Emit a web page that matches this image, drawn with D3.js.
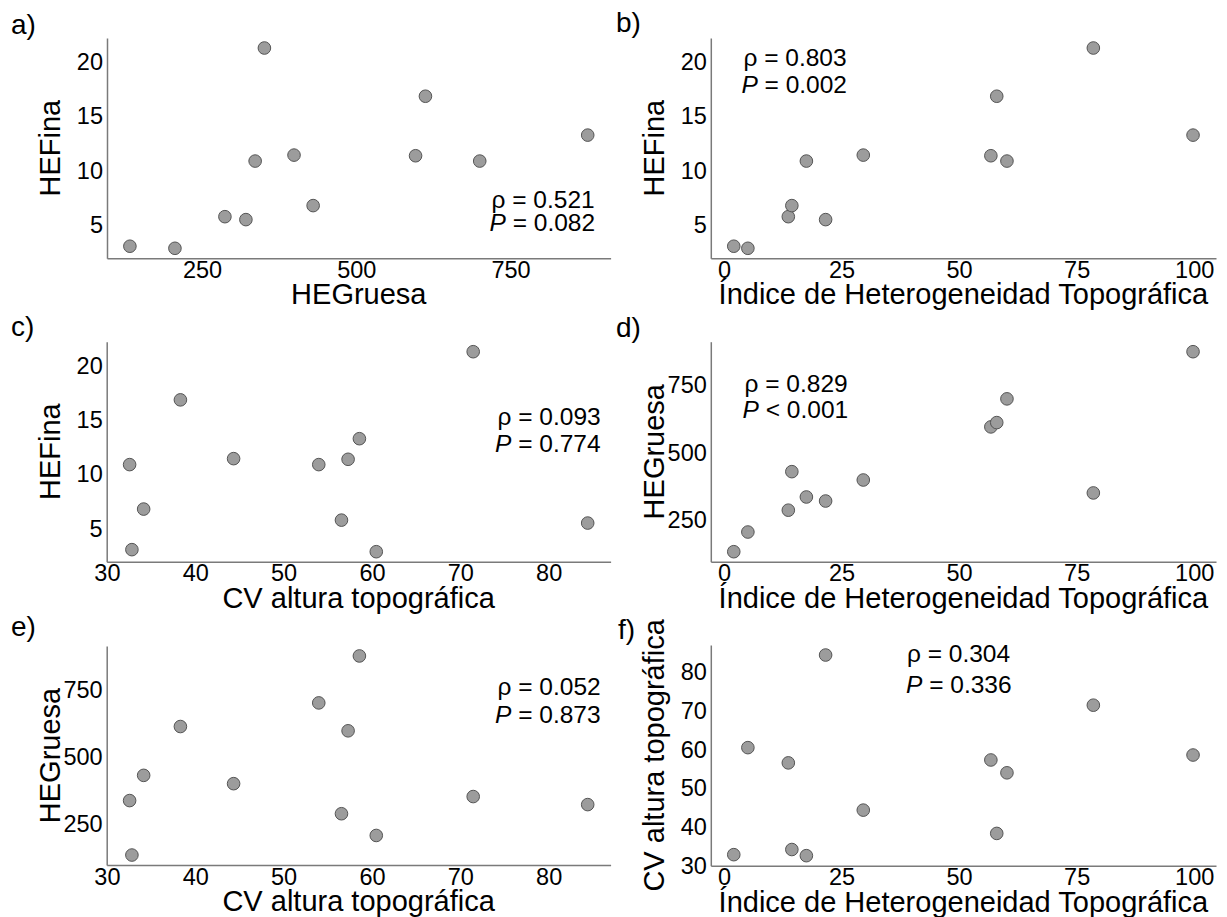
<!DOCTYPE html>
<html>
<head>
<meta charset="utf-8">
<script src="https://cdn.jsdelivr.net/npm/d3@7"></script>
<style>
  body { margin: 0; background: #fff; }
  svg { display: block; font-family: "Liberation Sans", Arial, sans-serif; }
</style>
</head>
<body>
<svg id="chart" width="1227" height="917"></svg>
<script>
// values per site (12 sites)
const heFina   = [3.05, 2.86, 5.77, 5.5, 10.89, 21.3, 11.44, 6.79, 11.38, 16.86, 10.89, 13.28];
const heGruesa = [133, 206, 287, 321, 336, 351, 399, 430, 596, 612, 700, 875];
const cvAltura = [32.83, 60.49, 56.55, 84.42, 32.57, 71.46, 44.34, 34.16, 57.3, 38.32, 53.98, 58.58];
const iht      = [2.09, 5.09, 13.69, 21.62, 17.53, 78.55, 29.63, 14.44, 56.76, 58.01, 60.18, 99.75];

// tick labels
const ticksFina = [5, 10, 15, 20];
const ticksGruesa = [250, 500, 750];
const ticksCV = [30, 40, 50, 60, 70, 80];
const ticksIHT = [0, 25, 50, 75, 100];

// Spearman results per panel
const rhoValues = ['0.521', '0.803', '0.093', '0.829', '0.052', '0.304'];
const pValues = ['= 0.082', '= 0.002', '= 0.774', '< 0.001', '= 0.873', '= 0.336'];

const tIHT = 'Índice de Heterogeneidad Topográfica';
const tCV = 'CV altura topográfica';

const panels = [
  { lab: 'a)', xs: heGruesa, ys: heFina, xt: ticksGruesa, yt: ticksFina, xTitle: 'HEGruesa', yTitle: 'HEFina',
    box: [107, 610.6, 38, 258.3], labPos: [11, 34], rhoPos: [491.5, 208.3], pPos: [489.5, 231] },
  { lab: 'b)', xs: iht, ys: heFina, xt: ticksIHT, yt: ticksFina, xTitle: tIHT, yTitle: 'HEFina',
    box: [710.8, 1216, 38, 258.3], labPos: [616, 32], rhoPos: [743.4, 66], pPos: [741.4, 93.3] },
  { lab: 'c)', xs: cvAltura, ys: heFina, xt: ticksCV, yt: ticksFina, xTitle: tCV, yTitle: 'HEFina',
    box: [106.7, 610.6, 341.7, 561.7], labPos: [11, 336], rhoPos: [497.5, 425], pPos: [495, 451.7] },
  { lab: 'd)', xs: iht, ys: heGruesa, xt: ticksIHT, yt: ticksGruesa, xTitle: tIHT, yTitle: 'HEGruesa',
    box: [710.8, 1216, 341.7, 561.7], labPos: [616, 336.7], rhoPos: [744.5, 391.7], pPos: [742.6, 418.3] },
  { lab: 'e)', xs: cvAltura, ys: heGruesa, xt: ticksCV, yt: ticksGruesa, xTitle: tCV, yTitle: 'HEGruesa',
    box: [106.7, 610.6, 646, 865], labPos: [11, 636], rhoPos: [497.5, 695], pPos: [495, 723.3] },
  { lab: 'f)', xs: iht, ys: cvAltura, xt: ticksIHT, yt: ticksCV, xTitle: tIHT, yTitle: tCV,
    box: [710.8, 1216, 645, 865.7], labPos: [618, 639], rhoPos: [906.9, 661.7], pPos: [906, 692.7] }
];

const svg = d3.select('#chart');

// extent with 5% padding on each side
const padded = v => {
  const [lo, hi] = d3.extent(v);
  const p = (hi - lo) * 0.05;
  return [lo - p, hi + p];
};

panels.forEach((p, k) => {
  const [x0, x1, y0, y1] = p.box;
  const x = d3.scaleLinear().domain(padded(p.xs)).range([x0, x1]);
  const y = d3.scaleLinear().domain(padded(p.ys)).range([y1, y0]);
  const g = svg.append('g');

  const xAxis = g.append('g')
    .attr('transform', `translate(0,${y1})`)
    .call(d3.axisBottom(x).tickValues(p.xt).tickSize(0).tickPadding(3).tickFormat(d3.format('d')));
  const yAxis = g.append('g')
    .attr('transform', `translate(${x0},0)`)
    .call(d3.axisLeft(y).tickValues(p.yt).tickSize(0).tickPadding(4).tickFormat(d3.format('d')));

  [xAxis, yAxis].forEach(a => {
    a.attr('font-family', null).attr('font-size', null);
    a.select('.domain').attr('stroke', '#7a7a7a').attr('stroke-width', 1.5);
    a.selectAll('text').attr('font-size', 23.5).attr('fill', '#000');
  });

  // points
  g.selectAll('circle')
    .data(p.xs.map((v, i) => [v, p.ys[i]]))
    .enter()
    .append('circle')
    .attr('cx', d => x(d[0]))
    .attr('cy', d => y(d[1]))
    .attr('r', 6.3)
    .attr('fill', '#9c9c9c')
    .attr('stroke', '#555')
    .attr('stroke-width', 1);

  // axis titles
  g.append('text')
    .attr('x', (x0 + x1) / 2)
    .attr('y', y1 + 46)
    .attr('text-anchor', 'middle')
    .attr('font-size', 29)
    .text(p.xTitle);
  g.append('text')
    .attr('transform', `translate(${x0 - 47},${(y0 + y1) / 2}) rotate(-90)`)
    .attr('text-anchor', 'middle')
    .attr('font-size', 29)
    .text(p.yTitle);

  // panel letter
  g.append('text')
    .attr('x', p.labPos[0])
    .attr('y', p.labPos[1])
    .attr('font-size', 28)
    .text(p.lab);

  // correlation annotation
  const r = g.append('text')
    .attr('x', p.rhoPos[0])
    .attr('y', p.rhoPos[1])
    .attr('font-size', 24.5)
    .attr('xml:space', 'preserve');
  r.append('tspan').text('ρ');
  r.append('tspan').text(' = ' + rhoValues[k]);
  const q = g.append('text')
    .attr('x', p.pPos[0])
    .attr('y', p.pPos[1])
    .attr('font-size', 24.5)
    .attr('xml:space', 'preserve');
  q.append('tspan').attr('font-style', 'italic').text('P');
  q.append('tspan').text(' ' + pValues[k]);
});
</script>
</body>
</html>
